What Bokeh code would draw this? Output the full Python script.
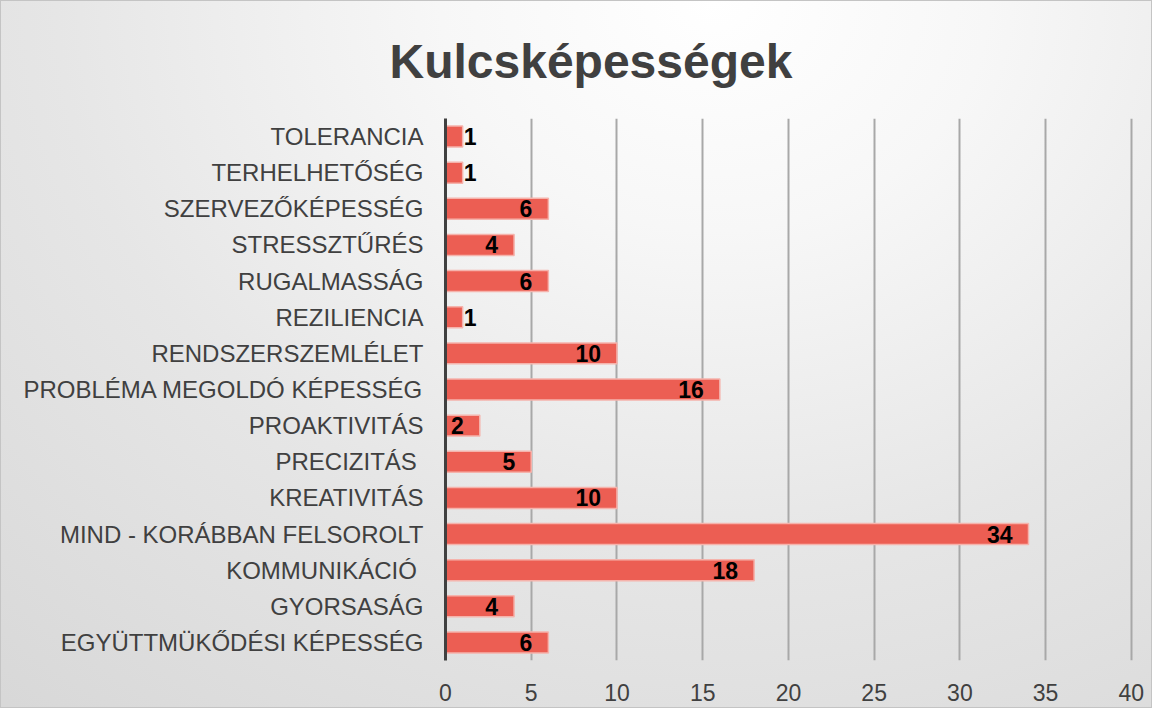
from bokeh.plotting import figure
from bokeh.models import (ColumnDataSource, FactorRange, Range1d, SingleIntervalTicker,
                          InlineStyleSheet)
from bokeh.core.properties import value
from bokeh.embed import file_html
from bokeh.resources import INLINE

# ---- data (top-to-bottom as shown) ----
categories = [
    "TOLERANCIA",
    "TERHELHETŐSÉG",
    "SZERVEZŐKÉPESSÉG",
    "STRESSZTŰRÉS",
    "RUGALMASSÁG",
    "REZILIENCIA",
    "RENDSZERSZEMLÉLET",
    "PROBLÉMA MEGOLDÓ KÉPESSÉG",
    "PROAKTIVITÁS",
    "PRECIZITÁS ",
    "KREATIVITÁS",
    "MIND - KORÁBBAN FELSOROLT",
    "KOMMUNIKÁCIÓ ",
    "GYORSASÁG",
    "EGYÜTTMÜKŐDÉSI KÉPESSÉG",
]
counts = [1, 1, 6, 4, 6, 1, 10, 16, 2, 5, 10, 34, 18, 4, 6]
title_text = "Kulcsképességek"
x_step = 5

factors = list(reversed(categories))

small = [v <= 1 for v in counts]
src = ColumnDataSource(dict(
    cat=categories,
    val=counts,
    lbl=[str(v) for v in counts],
    align=["left" if s else "right" for s in small],
    xoff=[1 if s else -16 for s in small],
))

css = InlineStyleSheet(css="""
:host {
  background: radial-gradient(ellipse 95% 130% at 62% 0%, #ffffff 0%, #f7f7f7 25%, #e6e6e6 60%, #d8d8d8 100%);
  outline: 1px solid #c4c4c4;
  outline-offset: -1px;
}
""")

p = figure(
    width=1152, height=708,
    y_range=FactorRange(factors=factors, range_padding=0),
    x_range=Range1d(0, 40.3),
    output_backend="svg", toolbar_location=None,
    min_border_left=445, min_border_right=16, min_border_top=118, min_border_bottom=48,
    stylesheets=[css],
)
p.border_fill_color = None
p.background_fill_color = None
p.outline_line_color = None

# title, shifted left so it is centred over the whole figure
p.title.text = title_text
p.title.align = "left"
p.title.offset = -56
p.title.vertical_align = "middle"
p.title.standoff = 60
p.title.text_font = "Liberation Sans"
p.title.text_font_style = "bold"
p.title.text_font_size = "48px"
p.title.text_color = "#404040"

# grid
p.ygrid.grid_line_color = None
p.xgrid.grid_line_color = "#a8a8a8"
p.xgrid.grid_line_width = 2
p.xaxis.ticker = SingleIntervalTicker(interval=x_step)

# bars
p.hbar(y="cat", right="val", left=0, height=0.58, source=src,
       fill_color="#EC5E53", line_color="#F5B3AC", line_width=1.5)

# value labels
p.text(x="val", y="cat", text="lbl", source=src,
       text_align="align", x_offset="xoff", text_baseline="middle",
       text_font=value("Liberation Sans"), text_font_style="bold",
       text_font_size="23px", text_color="#000000")

# axes
xa = p.xaxis[0]
xa.axis_line_color = None
xa.major_tick_line_color = None
xa.minor_tick_line_color = None
xa.major_label_standoff = 17
xa.major_label_text_font = "'Liberation Sans Narrow', 'Liberation Sans', sans-serif"
xa.major_label_text_font_size = "23px"
xa.major_label_text_color = "#404040"

ya = p.yaxis[0]
ya.axis_line_color = "#404040"
ya.axis_line_width = 3
ya.major_tick_line_color = None
ya.minor_tick_line_color = None
ya.major_label_standoff = 16
ya.major_label_text_font = "Liberation Sans"
ya.major_label_text_font_size = "24px"
ya.major_label_text_color = "#404040"

open("out.html", "w").write(file_html(p, INLINE))
